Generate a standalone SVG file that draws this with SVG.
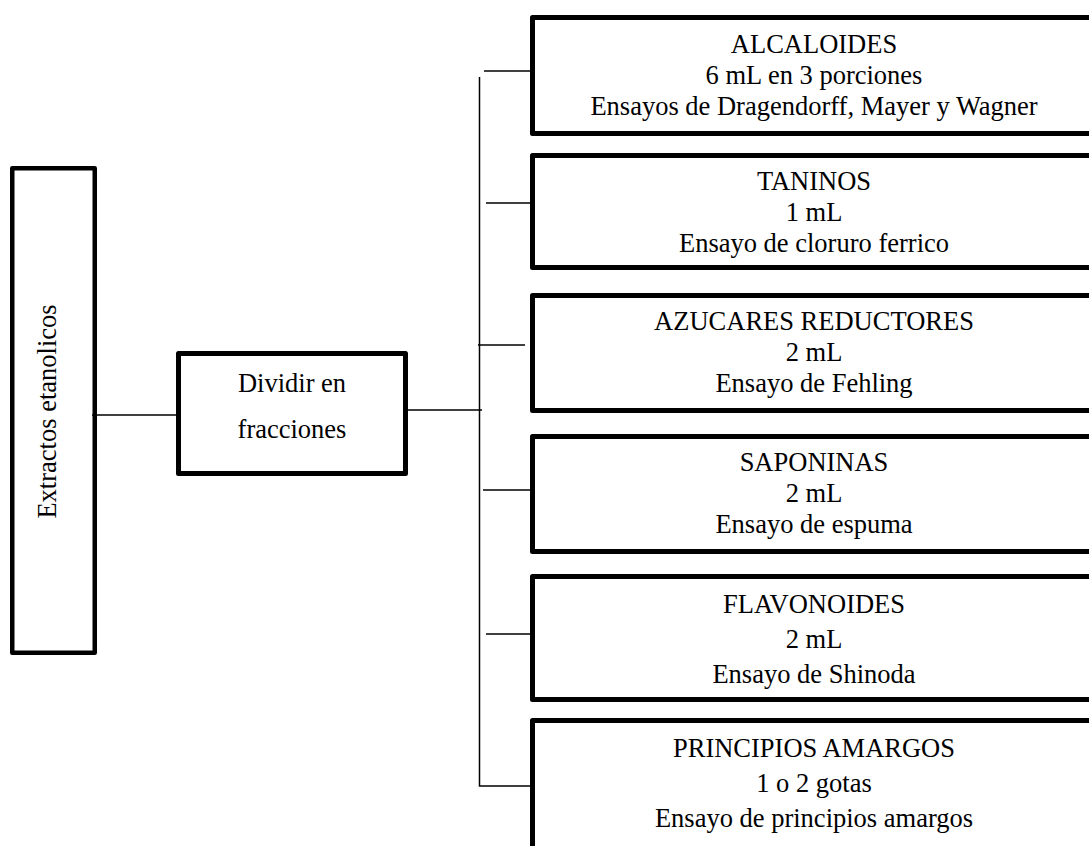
<svg xmlns="http://www.w3.org/2000/svg" width="1089" height="846" viewBox="0 0 1089 846">
<style>
.box{fill:#fff;stroke:#000;stroke-width:5;stroke-linejoin:round}
.ln{fill:none;stroke:#000;stroke-width:1.5}
text{font-family:"Liberation Serif","Times New Roman",serif;font-size:26.5px;fill:#000;text-anchor:middle}
</style>
<rect width="1089" height="846" fill="#fff"/>
<g id="n-extractos">
<rect class="box" x="12.25" y="168.25" width="82.5" height="484.5" style="stroke-width:4.5"/>
<text transform="translate(56,411.5) rotate(-90)">Extractos etanolicos</text>
</g>
<g id="n-dividir">
<rect class="box" x="178.5" y="353.5" width="227" height="120"/>
<text x="292" y="392">Dividir en</text>
<text x="292" y="438">fracciones</text>
</g>
<g id="n-alcaloides">
<rect class="box" x="532.5" y="17.5" width="570" height="116"/>
<text x="814" y="53">ALCALOIDES</text>
<text x="814" y="84">6 mL en 3 porciones</text>
<text x="814" y="115">Ensayos de Dragendorff, Mayer y Wagner</text>
</g>
<g id="n-taninos">
<rect class="box" x="532.5" y="155.5" width="570" height="112"/>
<text x="814" y="190">TANINOS</text>
<text x="814" y="221">1 mL</text>
<text x="814" y="252">Ensayo de cloruro ferrico</text>
</g>
<g id="n-azucares">
<rect class="box" x="532.5" y="295.5" width="570" height="115"/>
<text x="814" y="330">AZUCARES REDUCTORES</text>
<text x="814" y="361">2 mL</text>
<text x="814" y="392">Ensayo de Fehling</text>
</g>
<g id="n-saponinas">
<rect class="box" x="532.5" y="436.5" width="570" height="115"/>
<text x="814" y="471">SAPONINAS</text>
<text x="814" y="502">2 mL</text>
<text x="814" y="533">Ensayo de espuma</text>
</g>
<g id="n-flavonoides">
<rect class="box" x="532.5" y="576.5" width="570" height="123"/>
<text x="814" y="613">FLAVONOIDES</text>
<text x="814" y="648">2 mL</text>
<text x="814" y="683">Ensayo de Shinoda</text>
</g>
<g id="n-principios">
<rect class="box" x="532.5" y="720.5" width="570" height="200"/>
<text x="814" y="757">PRINCIPIOS AMARGOS</text>
<text x="814" y="792">1 o 2 gotas</text>
<text x="814" y="827">Ensayo de principios amargos</text>
</g>
<g id="connectors">
<line class="ln" x1="92" y1="415" x2="176" y2="415"/>
<line class="ln" x1="408" y1="410" x2="482" y2="410"/>
<polyline class="ln" points="479.5,77 479.5,786 530,786"/>
<line class="ln" x1="484" y1="71" x2="530" y2="71"/>
<line class="ln" x1="486" y1="203" x2="530" y2="203"/>
<line class="ln" x1="478" y1="345" x2="525" y2="345"/>
<line class="ln" x1="483" y1="490" x2="530" y2="490"/>
<line class="ln" x1="486" y1="634" x2="530" y2="634"/>
</g>
</svg>
